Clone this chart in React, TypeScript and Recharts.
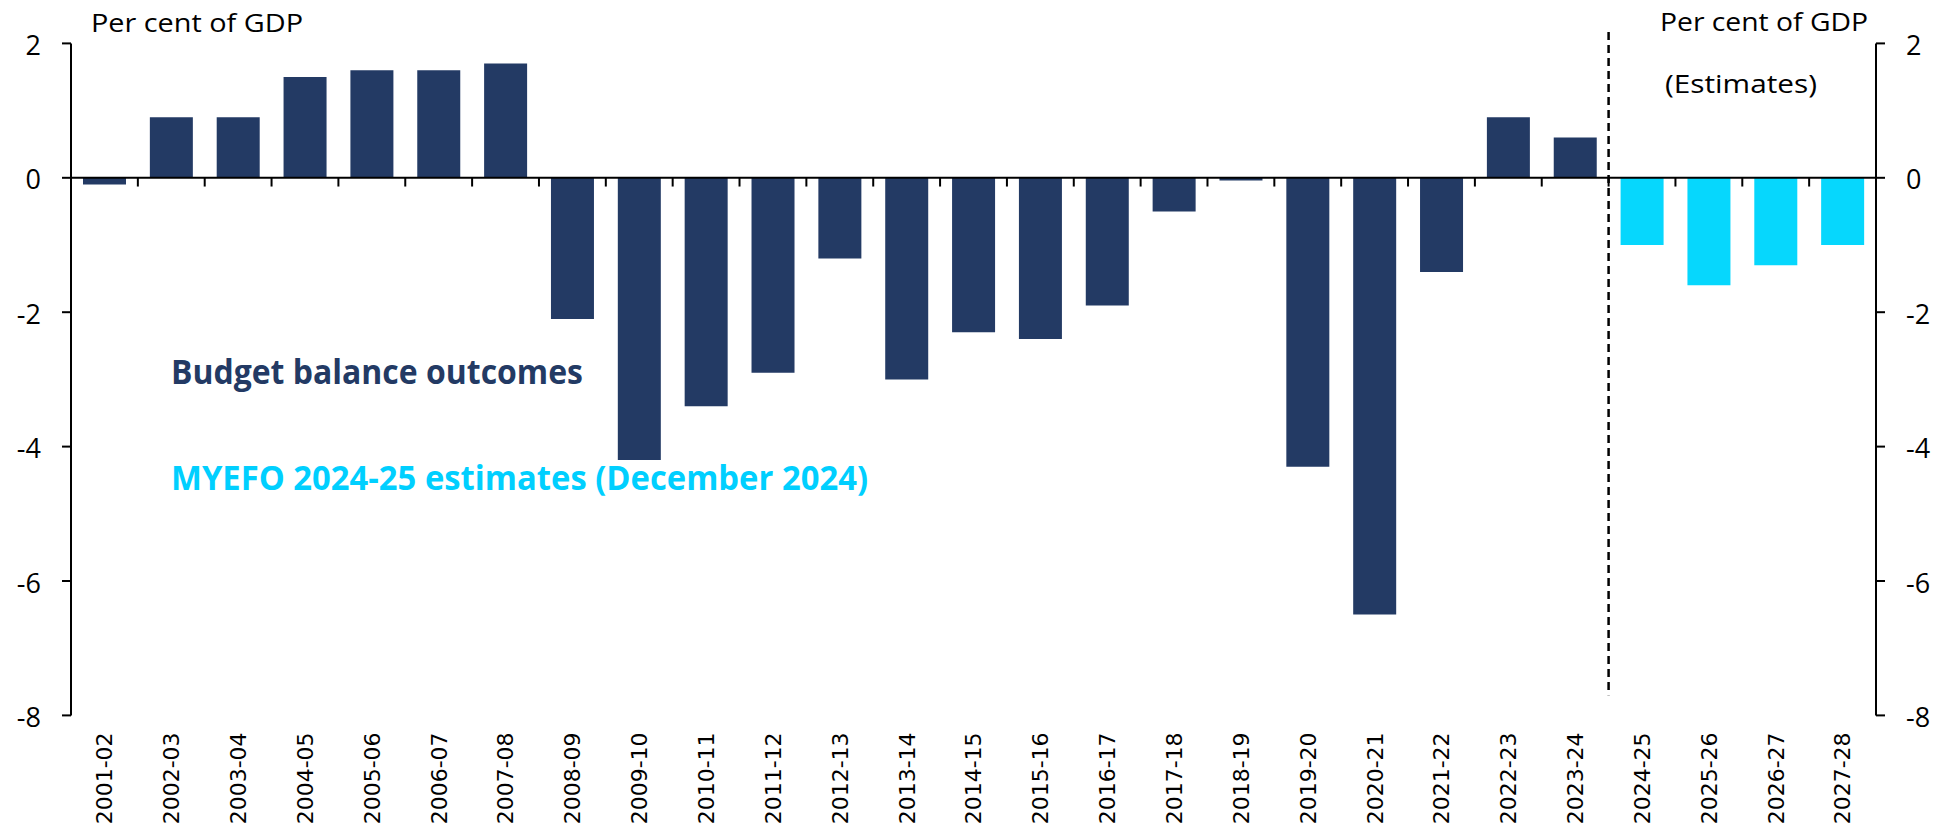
import { ComposedChart, Bar, Line, Cell, XAxis, YAxis, ReferenceLine } from 'recharts';

const years = [
  '2001-02', '2002-03', '2003-04', '2004-05', '2005-06', '2006-07', '2007-08',
  '2008-09', '2009-10', '2010-11', '2011-12', '2012-13', '2013-14', '2014-15',
  '2015-16', '2016-17', '2017-18', '2018-19', '2019-20', '2020-21', '2021-22',
  '2022-23', '2023-24', '2024-25', '2025-26', '2026-27', '2027-28',
];

// Budget balance outcomes, per cent of GDP
const outcomes = [
  -0.1, 0.9, 0.9, 1.5, 1.6, 1.6, 1.7, -2.1, -4.2, -3.4, -2.9, -1.2,
  -3.0, -2.3, -2.4, -1.9, -0.5, -0.04, -4.3, -6.5, -1.4, 0.9, 0.6,
];

// MYEFO 2024-25 estimates
const estimates = [-1.0, -1.6, -1.3, -1.0];

const yTicks = [2, 0, -2, -4, -6, -8];

const NAVY = '#233a64';
const CYAN = '#06d7fd';
const FONT = '"Open Sans", "Noto Sans", sans-serif';

const data = years.map((year, i) => ({
  year,
  idx: i + 0.5,
  value: i < outcomes.length ? outcomes[i] : estimates[i - outcomes.length],
  estimate: i >= outcomes.length,
}));

// boundaries between categories get the little tick marks under the zero line
const boundaries = years.slice(1).map((_, i) => i + 1);
const splitAt = outcomes.length;

function YearTick({ x, y, payload }: any) {
  return (
    <g transform={`translate(${x},${y + 17})`}>
      <text
        transform="rotate(-90)"
        textAnchor="end"
        dy="0.36em"
        fontFamily='"DejaVu Sans", sans-serif'
        fontSize={22}
        fill="#000"
      >
        {payload.value}
      </text>
    </g>
  );
}

const yTick = { fill: '#000', fontSize: 27, fontFamily: FONT, dy: 2 };
const axisLine = { stroke: '#000', strokeWidth: 2 };

export default function App() {
  return (
    <div style={{ position: 'absolute', left: 0, top: 0, width: 1944, height: 836, background: '#fff' }}>
      <ComposedChart
        width={1944}
        height={836}
        data={data}
        margin={{ top: 43.4, right: 8, left: 11, bottom: 10.6 }}
      >
        <XAxis
          dataKey="year"
          interval={0}
          axisLine={false}
          tickLine={false}
          tickSize={0}
          tickMargin={0}
          height={110}
          tick={<YearTick />}
        />
        <XAxis xAxisId="num" type="number" dataKey="idx" domain={[0, years.length]} allowDataOverflow hide />
        <YAxis
          yAxisId="left"
          domain={[-8, 2]}
          ticks={yTicks}
          interval={0}
          width={60}
          axisLine={axisLine}
          tickLine={axisLine}
          tickSize={9}
          tickMargin={21}
          tick={yTick}
        />
        <YAxis
          yAxisId="right"
          orientation="right"
          domain={[-8, 2]}
          ticks={yTicks}
          interval={0}
          width={60}
          axisLine={axisLine}
          tickLine={axisLine}
          tickSize={9}
          tickMargin={21}
          tick={yTick}
        />
        <Bar dataKey="value" yAxisId="left" barSize={43} isAnimationActive={false}>
          {data.map((d) => (
            <Cell key={d.year} fill={d.estimate ? CYAN : NAVY} />
          ))}
        </Bar>
        {/* invisible series so the right-hand axis has something to scale */}
        <Line
          dataKey="value"
          yAxisId="right"
          stroke="none"
          dot={false}
          activeDot={false}
          legendType="none"
          isAnimationActive={false}
        />
        <ReferenceLine yAxisId="left" y={0} stroke="#000" strokeWidth={2} />
        {boundaries.map((b) => (
          <ReferenceLine
            key={b}
            xAxisId="num"
            yAxisId="left"
            segment={[{ x: b, y: 0 }, { x: b, y: -0.13 }]}
            stroke="#000"
            strokeWidth={2}
          />
        ))}
        <ReferenceLine
          xAxisId="num"
          yAxisId="left"
          segment={[{ x: splitAt, y: 2.17 }, { x: splitAt, y: -7.7 }]}
          ifOverflow="visible"
          stroke="#000"
          strokeWidth={2.5}
          strokeDasharray="8 5"
        />
      </ComposedChart>

      <svg
        width={1944}
        height={836}
        style={{ position: 'absolute', left: 0, top: 0, pointerEvents: 'none' }}
      >
        <text x={91} y={32} fontFamily={FONT} fontSize={25} fill="#000" textLength={212} lengthAdjust="spacingAndGlyphs">
          Per cent of GDP
        </text>
        <text x={1660} y={31} fontFamily={FONT} fontSize={25} fill="#000" textLength={208} lengthAdjust="spacingAndGlyphs">
          Per cent of GDP
        </text>
        <text x={1665} y={93} fontFamily={FONT} fontSize={25} fill="#000" textLength={152} lengthAdjust="spacingAndGlyphs">
          (Estimates)
        </text>
        <text x={171} y={384} fontFamily={FONT} fontWeight={700} fontSize={34} fill={NAVY} textLength={412} lengthAdjust="spacingAndGlyphs">
          Budget balance outcomes
        </text>
        <text x={171} y={490} fontFamily={FONT} fontWeight={700} fontSize={34} fill="#00cfff" textLength={697} lengthAdjust="spacingAndGlyphs">
          MYEFO 2024-25 estimates (December 2024)
        </text>
      </svg>
    </div>
  );
}
